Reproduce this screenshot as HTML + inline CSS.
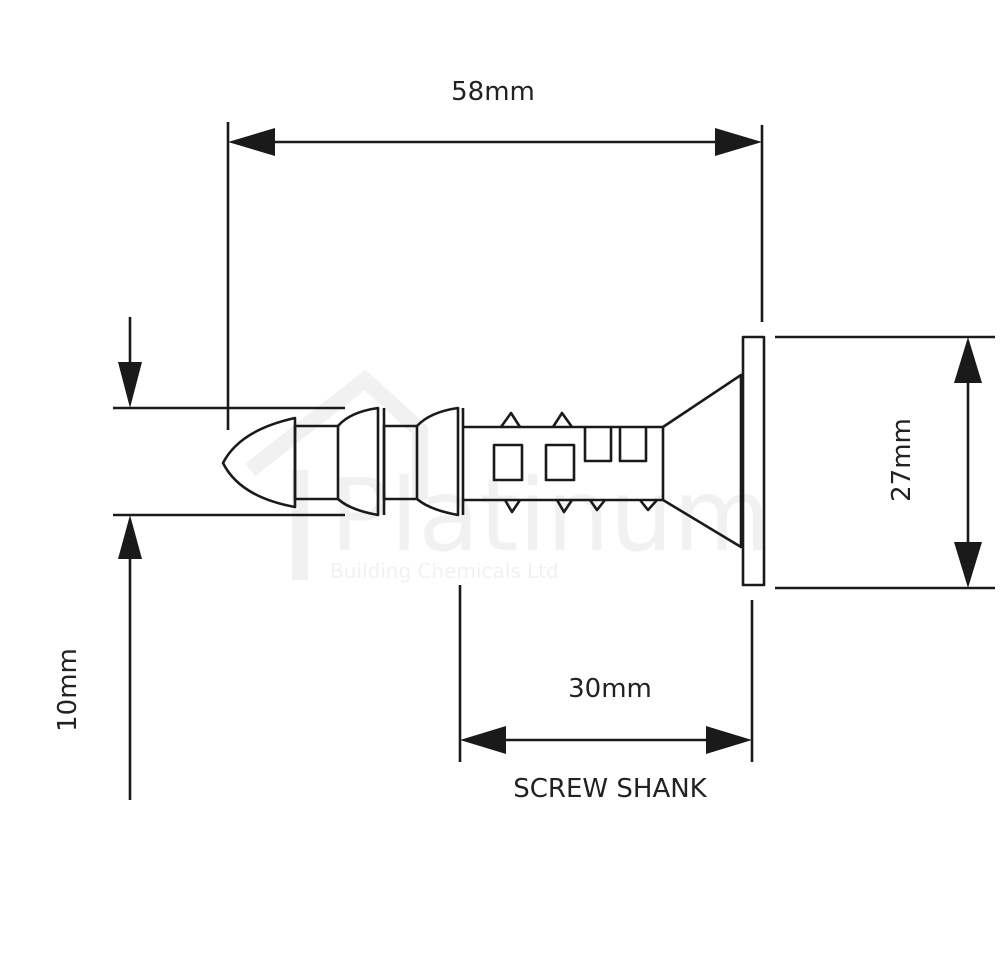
<!DOCTYPE html>
<html><head><meta charset="utf-8"><style>
html,body{margin:0;padding:0;background:#fff;}
svg{display:block;}
text{font-family:"DejaVu Sans","Liberation Sans",sans-serif;fill:#222;}
</style></head><body>
<svg width="1000" height="956" viewBox="0 0 1000 956" xmlns="http://www.w3.org/2000/svg">
<!-- watermark -->
<g opacity="0.08">
<polyline points="250,470 365,380 420,430 420,500" fill="none" stroke="#555" stroke-width="16"/>
<line x1="300" y1="470" x2="300" y2="580" stroke="#555" stroke-width="16"/>
<text x="330" y="550" font-size="100" style="fill:#555">Platinum</text>
<text x="330" y="578" font-size="20" style="fill:#555">Building Chemicals Ltd</text>
</g>
<g stroke="#1a1a1a" stroke-width="2.6" fill="none" stroke-linejoin="round">
<!-- 58mm -->
<line x1="228" y1="122" x2="228" y2="430"/>
<line x1="762" y1="125" x2="762" y2="322"/>
<line x1="260" y1="142" x2="730" y2="142"/>
<!-- 10mm -->
<line x1="113" y1="408" x2="345" y2="408"/>
<line x1="113" y1="515" x2="345" y2="515"/>
<line x1="130" y1="317" x2="130" y2="380"/>
<line x1="130" y1="545" x2="130" y2="800"/>
<!-- 27mm -->
<line x1="775" y1="337" x2="995" y2="337"/>
<line x1="775" y1="588" x2="995" y2="588"/>
<line x1="968" y1="370" x2="968" y2="555"/>
<!-- 30mm -->
<line x1="460" y1="585" x2="460" y2="762"/>
<line x1="752" y1="600" x2="752" y2="762"/>
<line x1="495" y1="740" x2="718" y2="740"/>
<!-- screw tip -->
<path d="M295,418 Q240,430 223,463 Q240,497 295,507 Z"/>
<rect x="295" y="426" width="43" height="73"/>
<path d="M338,426 Q350,412 378,408 L378,515 Q350,510 338,499"/>
<line x1="384" y1="408" x2="384" y2="515"/>
<rect x="384" y="426" width="33" height="73"/>
<path d="M417,426 Q430,412 458,408 L458,515 Q430,510 417,499"/>
<line x1="463" y1="408" x2="463" y2="515"/>
<!-- body -->
<line x1="463" y1="427" x2="663" y2="427"/>
<line x1="463" y1="500" x2="663" y2="500"/>
<line x1="663" y1="427" x2="663" y2="500"/>
<polyline points="501,427 511,413 520,427"/>
<polyline points="553,427 562,413 572,427"/>
<rect x="494" y="445" width="28" height="35"/>
<rect x="546" y="445" width="28" height="35"/>
<polyline points="585,427 585,461 611,461 611,427"/>
<polyline points="620,427 620,461 646,461 646,427"/>
<polyline points="505,500 512,512 520,500"/>
<polyline points="557,500 564,512 572,500"/>
<polyline points="590,500 597,510 605,500"/>
<polyline points="640,500 648,510 657,500"/>
<!-- head -->
<polyline points="663,427 741,375 741,547 663,500"/>
<rect x="743" y="337" width="21" height="248"/>
</g>
<g fill="#1a1a1a">
<polygon points="228,142 275,128 275,156"/>
<polygon points="762,142 715,128 715,156"/>
<polygon points="130,408 118,362 142,362"/>
<polygon points="130,515 118,559 142,559"/>
<polygon points="968,337 954,383 982,383"/>
<polygon points="968,588 954,542 982,542"/>
<polygon points="460,740 506,726 506,754"/>
<polygon points="752,740 706,726 706,754"/>
</g>
<text x="493" y="100" font-size="26" text-anchor="middle">58mm</text>
<text x="610" y="697" font-size="26" text-anchor="middle">30mm</text>
<text x="610" y="797" font-size="26" text-anchor="middle">SCREW SHANK</text>
<text transform="translate(910,460) rotate(-90)" font-size="26" text-anchor="middle">27mm</text>
<text transform="translate(76,690) rotate(-90)" font-size="26" text-anchor="middle">10mm</text>
</svg>
</body></html>
